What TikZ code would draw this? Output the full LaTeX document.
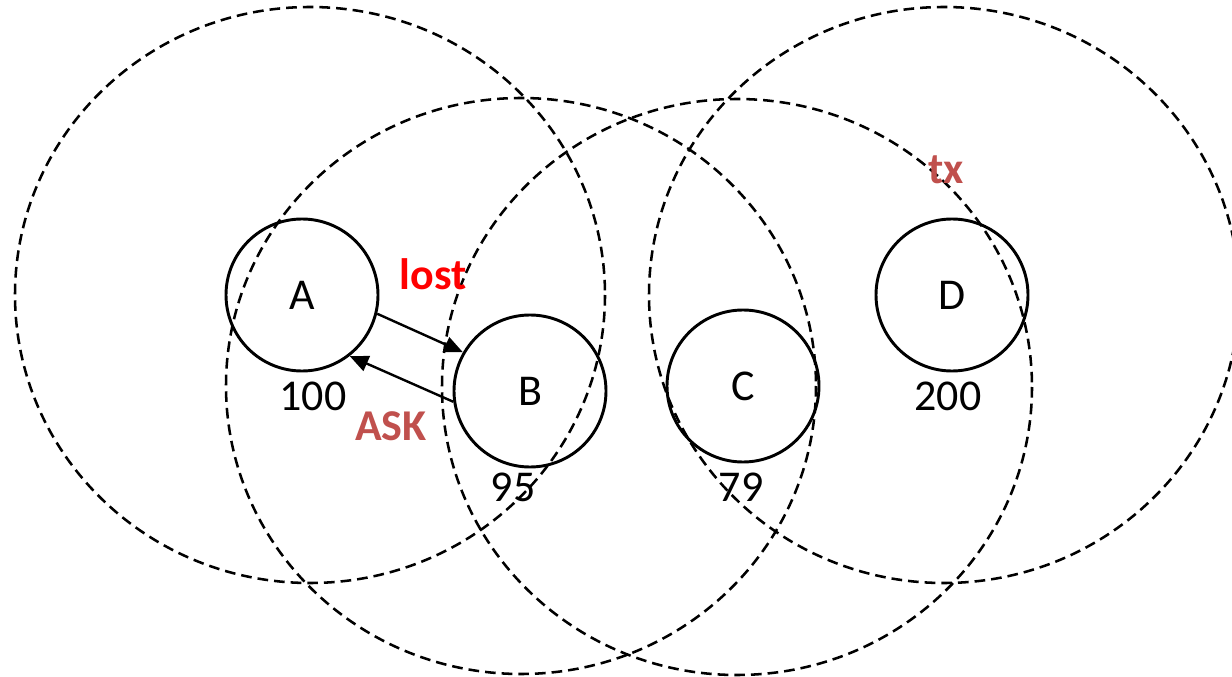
\documentclass[tikz,border=0pt]{standalone}
\usepackage{fontspec}
\setmainfont{Carlito}
\usetikzlibrary{arrows.meta}
\definecolor{ask-red}{RGB}{192,80,77}

\begin{document}
\begin{tikzpicture}[x=0.75pt,y=-0.75pt,
		station/.style={draw, circle, line width=2.2pt, minimum size=114pt, inner sep=0pt},
		reach/.style={draw, line width=1.9pt, dash pattern=on 8pt off 4.5pt},
		msg/.style={-{Triangle[length=14pt,width=12pt]}, line width=1.8pt},
		every node/.style={font=\fontsize{33}{40}\selectfont}]
			\useasboundingbox (0,0) rectangle (1232,677);

			\draw[reach] (310,295) ellipse [x radius=295, y radius=288];
			\draw[reach] (521,386) ellipse [x radius=295, y radius=288];
			\draw[reach] (737,387) ellipse [x radius=295, y radius=288];
			\draw[reach] (944,295) ellipse [x radius=295, y radius=288];

			\node[station] (A) at (302,295) {A};
			\node[station] (B) at (530,391) {B};
			\node[station] (C) at (743,386) {C};
			\node[station] (D) at (952,295) {D};

			\node (qa) at (313,396) {100};
			\node (qb) at (513,487) {95};
			\node (qc) at (741,487) {79};
			\node (qd) at (948,396) {200};

			\draw[msg] (A.-14) -- (B.150);
			\draw[msg] (B.188) -- (A.-52);

			\node[red, font=\fontsize{33}{40}\selectfont\bfseries] (lost) at (433,274) {lost};
			\node[ask-red, font=\fontsize{33}{40}\selectfont\bfseries] (ask) at (391,426) {ASK};
			\node[ask-red, font=\fontsize{33}{40}\selectfont\bfseries] (tx) at (946,170) {tx};
		\end{tikzpicture}
\end{document}
